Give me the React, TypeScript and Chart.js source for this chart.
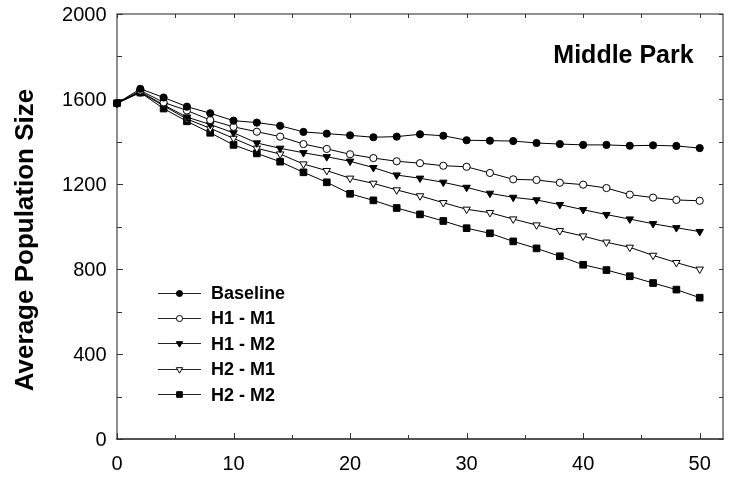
import React, { useEffect, useRef } from 'react';
import { Chart, registerables } from 'chart.js';

Chart.register(...registerables);

const years = [0, 2, 4, 6, 8, 10, 12, 14, 16, 18, 20, 22, 24, 26, 28, 30, 32, 34, 36, 38, 40, 42, 44, 46, 48, 50];
const baseline = [1580, 1648, 1607, 1564, 1533, 1498, 1489, 1474, 1445, 1437, 1429, 1420, 1423, 1434, 1427, 1406, 1404, 1402, 1393, 1388, 1384, 1384, 1380, 1382, 1379, 1369];
const h1m1 = [1580, 1640, 1584, 1546, 1501, 1469, 1446, 1423, 1388, 1365, 1340, 1322, 1307, 1298, 1286, 1281, 1252, 1222, 1219, 1206, 1197, 1181, 1150, 1136, 1125, 1121];
const h1m2 = [1580, 1635, 1572, 1515, 1480, 1441, 1393, 1368, 1347, 1328, 1307, 1277, 1242, 1227, 1208, 1184, 1156, 1137, 1125, 1103, 1079, 1056, 1035, 1013, 994, 976];
const h2m1 = [1580, 1632, 1568, 1506, 1462, 1415, 1368, 1341, 1294, 1263, 1227, 1203, 1172, 1144, 1112, 1081, 1065, 1035, 1007, 980, 955, 926, 902, 864, 830, 799];
const h2m2 = [1580, 1630, 1555, 1495, 1441, 1384, 1344, 1305, 1255, 1208, 1154, 1123, 1087, 1057, 1026, 992, 968, 930, 897, 860, 820, 795, 766, 734, 703, 665];

const seriesNames = ['Baseline', 'H1 - M1', 'H1 - M2', 'H2 - M1', 'H2 - M2'];
const seriesValues = [baseline, h1m1, h1m2, h2m1, h2m2];
const markerShapes = ['circle', 'circle', 'triangle', 'triangle', 'rect'];
const markerFilled = [true, false, true, false, true];

const xTickLabels = [0, 10, 20, 30, 40, 50];
const xMinorTicks = [0, 5, 10, 15, 20, 25, 30, 35, 40, 45, 50];
const yTickLabels = [0, 400, 800, 1200, 1600, 2000];
const yMinorTicks = [0, 200, 400, 600, 800, 1000, 1200, 1400, 1600, 1800, 2000];

const chartTitle = 'Middle Park';
const yAxisTitle = 'Average Population Size';

const FONT = '"Liberation Sans", Arial, sans-serif';

function markerRadius(shape: string) {
  if (shape === 'rect') return 4.7;
  if (shape === 'triangle') return 4.3;
  return 3.6;
}

function drawMarker(ctx: CanvasRenderingContext2D, shape: string, filled: boolean, x: number, y: number, r: number) {
  ctx.save();
  ctx.beginPath();
  if (shape === 'circle') {
    ctx.arc(x, y, r, 0, Math.PI * 2);
  } else if (shape === 'triangle') {
    const s = Math.sin(Math.PI / 3) * r;
    ctx.moveTo(x, y + r);
    ctx.lineTo(x - s, y - r / 2);
    ctx.lineTo(x + s, y - r / 2);
    ctx.closePath();
  } else {
    const h = r * Math.SQRT1_2;
    ctx.rect(x - h, y - h, 2 * h, 2 * h);
  }
  ctx.fillStyle = filled ? '#000' : '#fff';
  ctx.fill();
  ctx.lineWidth = 1;
  ctx.strokeStyle = '#000';
  ctx.stroke();
  ctx.restore();
}

const framePlugin = {
  id: 'frame',
  beforeDatasetsDraw(chart: any) {
    const ctx: CanvasRenderingContext2D = chart.ctx;
    const { left, right, top, bottom } = chart.chartArea;
    const xs = chart.scales.x;
    const ys = chart.scales.y;
    ctx.save();
    ctx.lineWidth = 1.5;
    ctx.strokeStyle = '#6a6a6a';
    ctx.beginPath();
    ctx.moveTo(left, bottom);
    ctx.lineTo(left, top);
    ctx.lineTo(right, top);
    ctx.lineTo(right, bottom);
    ctx.stroke();
    ctx.strokeStyle = '#1a1a1a';
    ctx.beginPath();
    ctx.moveTo(left - 0.75, bottom);
    ctx.lineTo(right + 0.75, bottom);
    ctx.stroke();

    ctx.lineWidth = 1;
    ctx.strokeStyle = '#333';
    ctx.beginPath();
    for (const v of yMinorTicks) {
      const py = Math.round(ys.getPixelForValue(v)) + 0.5;
      const major = yTickLabels.includes(v);
      ctx.moveTo(left, py);
      ctx.lineTo(left + (major ? 6 : 5), py);
      ctx.moveTo(right, py);
      ctx.lineTo(right - 4, py);
    }
    for (const v of xMinorTicks) {
      const px = Math.round(xs.getPixelForValue(v)) + 0.5;
      const major = xTickLabels.includes(v);
      ctx.moveTo(px, bottom);
      ctx.lineTo(px, bottom - (major ? 6 : 4));
      ctx.moveTo(px, top);
      ctx.lineTo(px, top + 4);
    }
    ctx.stroke();
    ctx.restore();
  },
  afterDraw(chart: any) {
    const ctx: CanvasRenderingContext2D = chart.ctx;
    const { left, bottom } = chart.chartArea;
    const xs = chart.scales.x;
    const ys = chart.scales.y;
    ctx.save();
    ctx.fillStyle = '#000';
    ctx.font = `20px ${FONT}`;
    ctx.textAlign = 'right';
    ctx.textBaseline = 'alphabetic';
    for (const v of yTickLabels) {
      ctx.fillText(String(v), left - 10.5, ys.getPixelForValue(v) + 7.2);
    }
    ctx.textAlign = 'center';
    for (const v of xTickLabels) {
      ctx.fillText(String(v), xs.getPixelForValue(v), bottom + 30.5);
    }

    // y-axis title
    ctx.save();
    ctx.translate(33, 240);
    ctx.rotate(-Math.PI / 2);
    ctx.font = `bold 26px ${FONT}`;
    ctx.textAlign = 'center';
    ctx.textBaseline = 'alphabetic';
    ctx.fillText(yAxisTitle, 0, 0);
    ctx.restore();

    // chart title
    ctx.font = `bold 25px ${FONT}`;
    ctx.textAlign = 'center';
    ctx.textBaseline = 'alphabetic';
    ctx.fillText(chartTitle, 623.5, 62.7);

    // legend
    const rowY0 = 292.5;
    const rowStep = 25.4;
    for (let i = 0; i < seriesNames.length; i++) {
      const y = rowY0 + i * rowStep;
      ctx.strokeStyle = '#222';
      ctx.lineWidth = 1;
      ctx.beginPath();
      ctx.moveTo(158, Math.round(y) + 0.5);
      ctx.lineTo(201, Math.round(y) + 0.5);
      ctx.stroke();
      const shape = markerShapes[i];
      drawMarker(ctx, shape, markerFilled[i], 179.5, Math.round(y) + 0.5, markerRadius(shape) * 0.85);
      ctx.fillStyle = '#000';
      ctx.font = `bold 18px ${FONT}`;
      ctx.textAlign = 'left';
      ctx.textBaseline = 'alphabetic';
      ctx.fillText(seriesNames[i], 211, y + 6.5);
    }
    ctx.restore();
  },
};

export default function App() {
  const ref = useRef<HTMLCanvasElement | null>(null);
  useEffect(() => {
    if (!ref.current) return;
    const datasets = seriesNames.map((name, i) => ({
      label: name,
      data: years.map((t, j) => ({ x: t, y: seriesValues[i][j] })),
      borderColor: '#000',
      borderWidth: 1,
      pointStyle: markerShapes[i] as any,
      rotation: markerShapes[i] === 'triangle' ? 180 : 0,
      pointRadius: markerRadius(markerShapes[i]),
      pointBackgroundColor: markerFilled[i] ? '#000' : '#fff',
      pointBorderColor: '#000',
      pointBorderWidth: 1,
      fill: false,
      tension: 0,
      clip: false as any,
    }));
    const chart = new Chart(ref.current, {
      type: 'line',
      data: { datasets },
      options: {
        responsive: false,
        animation: false,
        events: [],
        layout: { padding: { left: 117, top: 14, right: 6, bottom: 43 } },
        plugins: { legend: { display: false }, tooltip: { enabled: false }, title: { display: false } },
        scales: {
          x: { type: 'linear', min: 0, max: 52, display: false },
          y: { type: 'linear', min: 0, max: 2000, display: false },
        },
      },
      plugins: [framePlugin],
    });
    return () => chart.destroy();
  }, []);
  return (
    <div style={{ position: 'absolute', left: 0, top: 0, width: 729, height: 482, background: '#fff' }}>
      <canvas ref={ref} width={729} height={482} style={{ display: 'block' }} />
    </div>
  );
}
